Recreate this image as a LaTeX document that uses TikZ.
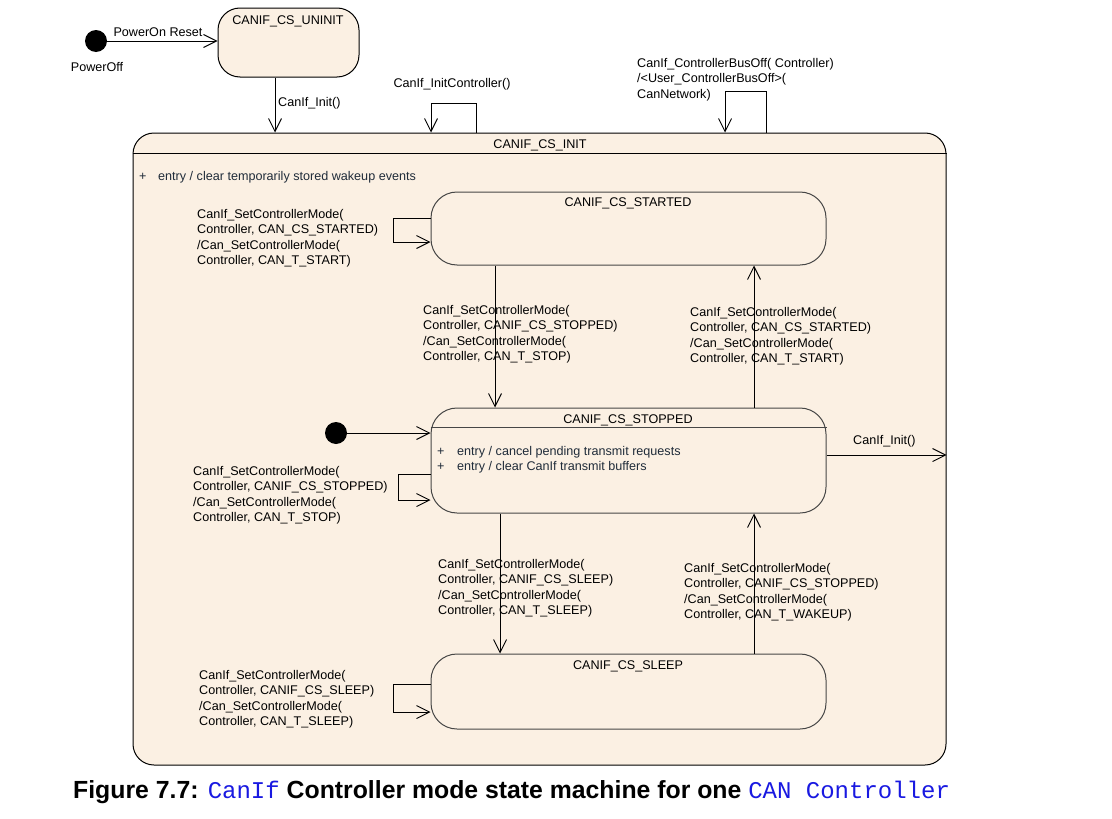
\documentclass[tikz,border=0pt]{standalone}
\usepackage{fontspec}
\setmainfont{Liberation Sans}
\setmonofont{Liberation Mono}
\usetikzlibrary{arrows.meta}
\definecolor{stfill}{RGB}{251,240,227}
\definecolor{entrycol}{RGB}{32,44,58}
\definecolor{capblue}{RGB}{25,25,225}
\definecolor{stedge}{RGB}{70,70,70}
\newcommand\lblfont{\fontsize{12.6}{15.5}\selectfont}
\tikzset{
  stbox/.style={draw=stedge, line width=1pt, fill=stfill, inner sep=0pt, rounded corners=26pt},
  outerbox/.style={draw=black, line width=1pt, fill=stfill, inner sep=0pt, rounded corners=21pt},
  initdot/.style={circle, fill=black, inner sep=0pt, minimum size=22pt},
  arr/.style={line width=0.9pt, -{Straight Barb[length=13pt,width=13pt,line width=0.9pt]}},
  ln/.style={line width=0.9pt},
  lbl/.style={font=\lblfont, align=left, inner sep=0pt, anchor=north west},
  ttl/.style={font=\lblfont, inner sep=0pt, anchor=base},
  entry/.style={font=\lblfont, inner sep=0pt, anchor=base west, text=entrycol}
}
\begin{document}
\begin{tikzpicture}[x=1pt,y=-1pt]
\useasboundingbox (0,0) rectangle (1112,819);
\fill[white] (0,0) rectangle (1112,819);

% outer composite state
\node[outerbox, minimum width=813pt, minimum height=632pt] (init) at (539.5,449) {};
\draw[ln] (init.west |- 0,153) -- (init.east |- 0,153);
\node[ttl] (initt) at (540,148) {CANIF\_CS\_INIT};
\node[entry] (inite) at (139,180) {\makebox[19pt][l]{+}entry / clear temporarily stored wakeup events};

% uninit
\node[outerbox, minimum width=141pt, minimum height=69pt, rounded corners=22pt] (uninit) at (288.5,42.5) {};
\node[ttl] (uninitt) at (288,24) {CANIF\_CS\_UNINIT};
\node[initdot] (p0) at (96,41) {};
\node[ttl] (p0l) at (97,71) {PowerOff};
\draw[arr] (p0) -- (uninit.west |- p0);
\node[ttl] (p0a) at (158,36) {PowerOn Reset};

\draw[arr] (275,0 |- uninit.south) -- (275,0 |- init.north);
\node[entry, text=black] (ia) at (278,106) {CanIf\_Init()};

% InitController loop
\draw[arr] (476,0 |- init.north) -- (476,103) -- (431,103) -- (431,0 |- init.north);
\node[ttl] (icl) at (452,87) {CanIf\_InitController()};

% BusOff loop
\draw[arr] (766,0 |- init.north) -- (766,91) -- (725,91) -- (725,0 |- init.north);
\node[lbl] (bol) at (637,58) {CanIf\_ControllerBusOff( Controller)\\/<User\_ControllerBusOff>(\\CanNetwork)};

% inner states
\node[stbox, minimum width=395pt, minimum height=73pt] (started) at (628.5,228.5) {};
\node[ttl] (startedt) at (628,206) {CANIF\_CS\_STARTED};

\node[stbox, minimum width=395pt, minimum height=105pt] (stopped) at (628.5,460.5) {};
\draw[draw=stedge, line width=1pt] (stopped.west |- 0,427) -- (stopped.east |- 0,427);
\node[ttl] (stoppedt) at (628,423) {CANIF\_CS\_STOPPED};
\node[entry] (se1) at (437,455) {\makebox[20pt][l]{+}entry / cancel pending transmit requests};
\node[entry] (se2) at (437,470) {\makebox[20pt][l]{+}entry / clear CanIf transmit buffers};

\node[stbox, minimum width=395pt, minimum height=75pt] (sleep) at (628.5,691.5) {};
\node[ttl] (sleept) at (628,669) {CANIF\_CS\_SLEEP};

% started self loop
\draw[arr] (started.west |- 0,218) -- (393,218) -- (393,242) -- (started.west |- 0,242);
\node[lbl] (sl1) at (197,209) {CanIf\_SetControllerMode(\\Controller, CAN\_CS\_STARTED)\\/Can\_SetControllerMode(\\Controller, CAN\_T\_START)};

% started -> stopped
\draw[arr] (495,0 |- started.south) -- (495,0 |- stopped.north);
\node[lbl] (l2) at (423,305) {CanIf\_SetControllerMode(\\Controller, CANIF\_CS\_STOPPED)\\/Can\_SetControllerMode(\\Controller, CAN\_T\_STOP)};

% stopped -> started
\draw[arr] (754,0 |- stopped.north) -- (754,0 |- started.south);
\node[lbl] (l3) at (690,307) {CanIf\_SetControllerMode(\\Controller, CAN\_CS\_STARTED)\\/Can\_SetControllerMode(\\Controller, CAN\_T\_START)};

% initial in stopped
\node[initdot] (i1) at (336,433) {};
\draw[arr] (i1) -- (stopped.west |- i1);

% stopped self loop
\draw[arr] (stopped.west |- 0,474) -- (398,474) -- (398,500) -- (stopped.west |- 0,500);
\node[lbl] (l4) at (193,466) {CanIf\_SetControllerMode(\\Controller, CANIF\_CS\_STOPPED)\\/Can\_SetControllerMode(\\Controller, CAN\_T\_STOP)};

% stopped -> exit
\draw[arr] (stopped.east |- 0,455) -- (init.east |- 0,455);
\node[entry, text=black] (l5) at (853,444) {CanIf\_Init()};

% stopped -> sleep
\draw[arr] (500,0 |- stopped.south) -- (500,0 |- sleep.north);
\node[lbl] (l6) at (438,559) {CanIf\_SetControllerMode(\\Controller, CANIF\_CS\_SLEEP)\\/Can\_SetControllerMode(\\Controller, CAN\_T\_SLEEP)};

% sleep -> stopped
\draw[arr] (754,0 |- sleep.north) -- (754,0 |- stopped.south);
\node[lbl] (l7) at (684,563) {CanIf\_SetControllerMode(\\Controller, CANIF\_CS\_STOPPED)\\/Can\_SetControllerMode(\\Controller, CAN\_T\_WAKEUP)};

% sleep self loop
\draw[arr] (sleep.west |- 0,684) -- (393,684) -- (393,712) -- (sleep.west |- 0,712);
\node[lbl] (l8) at (199,670) {CanIf\_SetControllerMode(\\Controller, CANIF\_CS\_SLEEP)\\/Can\_SetControllerMode(\\Controller, CAN\_T\_SLEEP)};

% caption
\node[inner sep=0pt, anchor=base west, font=\fontsize{24.8}{28}\selectfont] (cap) at (73,798)
  {\textbf{Figure 7.7: }{\fontsize{24}{28}\selectfont\color{capblue}\ttfamily CanIf}\textbf{ Controller mode state machine for one }{\fontsize{24}{28}\selectfont\color{capblue}\ttfamily CAN Controller}};
\end{tikzpicture}
\end{document}
